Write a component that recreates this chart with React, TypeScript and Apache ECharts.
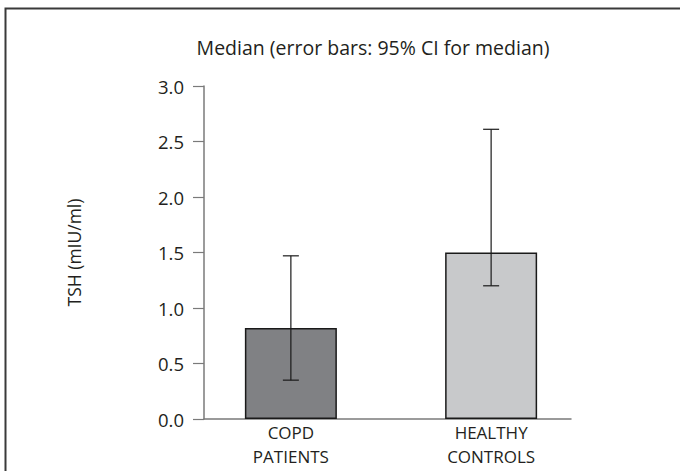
import React, { useEffect, useRef } from "react";
import * as echarts from "echarts";

const categories = ["COPD\nPATIENTS", "HEALTHY\nCONTROLS"];
const medians = [0.82, 1.5];
const ciLow = [0.35, 1.2];
const ciHigh = [1.47, 2.61];
const barColors = ["#808184", "#c8c9cb"];
const yTicks = { min: 0, max: 3, interval: 0.5 };
const titleText = "Median (error bars: 95% CI for median)";
const yName = "TSH (mIU/ml)";

const FONT = "Open Sans";
const TXT = "#231f20";
const AXIS = "#7a7a7a";

export default function App() {
  const ref = useRef<HTMLDivElement>(null);
  useEffect(() => {
    document.body.style.margin = "0";
    const chart = echarts.init(ref.current!, null, { renderer: "svg" });
    const option: any = {
      animation: false,
      backgroundColor: "#ffffff",
      textStyle: { fontFamily: FONT, color: TXT },
      title: {
        text: titleText,
        left: 368,
        textAlign: "center",
        top: 32,
        textStyle: { fontFamily: FONT, fontSize: 19.5, fontWeight: "normal", color: TXT },
      },
      graphic: [
        {
          type: "rect",
          shape: { x: 5.5, y: 8.5, width: 720, height: 520 },
          style: { fill: "none", stroke: "#3a3a3a", lineWidth: 2 },
          silent: true,
        },
      ],
      grid: [
        { left: 204, right: 109, top: 86, bottom: 52 },
        { left: 190.75, right: 88.75, top: 86, bottom: 52 },
      ],
      xAxis: [
        {
          gridIndex: 0,
          type: "value",
          min: 0,
          max: 1,
          axisLine: { show: true, lineStyle: { color: AXIS, width: 1.5 } },
          axisTick: { show: false },
          axisLabel: { show: false },
          splitLine: { show: false },
        },
        {
          gridIndex: 1,
          type: "category",
          data: categories,
          axisLine: { show: false },
          axisTick: { show: false },
          axisLabel: {
            margin: 2,
            fontFamily: FONT,
            fontSize: 17,
            lineHeight: 23.5,
            color: TXT,
          },
          splitLine: { show: false },
        },
      ],
      yAxis: [
        {
          gridIndex: 0,
          type: "value",
          min: yTicks.min,
          max: yTicks.max,
          interval: yTicks.interval,
          name: yName,
          nameLocation: "middle",
          nameGap: 121,
          nameTextStyle: { fontFamily: FONT, fontSize: 17.5, color: TXT },
          axisLine: { show: true, lineStyle: { color: AXIS, width: 1.5 } },
          axisTick: { show: true, inside: false, length: 11, lineStyle: { color: AXIS, width: 1.2 } },
          axisLabel: {
            margin: 20,
            fontFamily: FONT,
            fontSize: 18.5,
            color: TXT,
            formatter: (v: number) => v.toFixed(1),
          },
          splitLine: { show: false },
        },
        {
          gridIndex: 1,
          type: "value",
          min: yTicks.min,
          max: yTicks.max,
          show: false,
          splitLine: { show: false },
        },
      ],
      series: [
        {
          type: "bar",
          xAxisIndex: 1,
          yAxisIndex: 1,
          barWidth: 92,
          data: medians.map((v, i) => ({
            value: v,
            itemStyle: { color: barColors[i], borderColor: "#1a1a1a", borderWidth: 1.5 },
          })),
        },
        {
          type: "custom",
          xAxisIndex: 1,
          yAxisIndex: 1,
          data: categories.map((_, i) => [i, ciLow[i], ciHigh[i]]),
          renderItem: (params: any, api: any) => {
            const x = api.value(0);
            const lo = api.coord([x, api.value(1)]);
            const hi = api.coord([x, api.value(2)]);
            const hw = 8;
            const st = { stroke: "#1a1a1a", lineWidth: 1.2 };
            return {
              type: "group",
              children: [
                { type: "line", shape: { x1: lo[0], y1: lo[1], x2: hi[0], y2: hi[1] }, style: st },
                { type: "line", shape: { x1: lo[0] - hw, y1: lo[1], x2: lo[0] + hw, y2: lo[1] }, style: st },
                { type: "line", shape: { x1: hi[0] - hw, y1: hi[1], x2: hi[0] + hw, y2: hi[1] }, style: st },
              ],
            };
          },
          z: 5,
        },
      ],
    };
    chart.setOption(option);
    return () => chart.dispose();
  }, []);
  return <div ref={ref} style={{ width: 680, height: 471 }} />;
}
